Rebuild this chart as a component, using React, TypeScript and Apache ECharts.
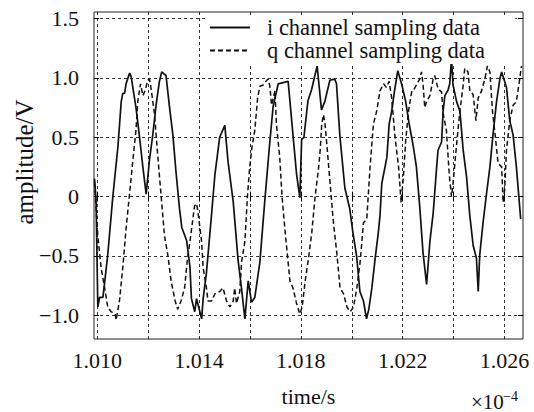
import React, { useEffect, useRef } from "react";
import * as echarts from "echarts";

const FONT = "Liberation Serif";

const seriesNames = ["i channel sampling data", "q channel sampling data"];

const xTickValues = [1.01, 1.012, 1.014, 1.016, 1.018, 1.02, 1.022, 1.024, 1.026];
const xLabelValues = [1.01, 1.014, 1.018, 1.022, 1.026];
const yTickValues = [-1.0, -0.5, 0, 0.5, 1.0, 1.5];

const iTime = [
  1.00989, 1.00995, 1.01002, 1.01009, 1.01022, 1.01028, 1.01041, 1.01061, 1.01081, 1.01094,
  1.011, 1.01107, 1.01113, 1.01127, 1.01133, 1.01152, 1.01166, 1.01179, 1.01192, 1.01205,
  1.01218, 1.01231, 1.01244, 1.01253, 1.0127, 1.01284, 1.01297, 1.0131, 1.01323, 1.01332,
  1.01351, 1.01364, 1.0137, 1.01383, 1.0139, 1.01403, 1.0141, 1.01416, 1.01429, 1.01449,
  1.01462, 1.01481, 1.01501, 1.01514, 1.01534, 1.01553, 1.01567, 1.0158, 1.01593, 1.01606,
  1.01619, 1.01639, 1.01658, 1.01678, 1.01691, 1.01711, 1.0173, 1.0175, 1.01769, 1.01783,
  1.01796, 1.01803, 1.01812, 1.01828, 1.01842, 1.01864, 1.01881, 1.01894, 1.01914, 1.01933,
  1.0194, 1.01953, 1.01973, 1.01992, 1.02005, 1.02019, 1.02032, 1.02046, 1.02058, 1.02067,
  1.02079, 1.02092, 1.02104, 1.02111, 1.02118, 1.02138, 1.02147, 1.02157, 1.02168, 1.02181,
  1.02189, 1.02197, 1.02212, 1.02225, 1.02242, 1.02254, 1.02267, 1.0228, 1.02294, 1.02301,
  1.02307, 1.0232, 1.02333, 1.02339, 1.02353, 1.02359, 1.02366, 1.02379, 1.02385, 1.02392,
  1.02398, 1.02412, 1.02425, 1.02438, 1.02451, 1.02464, 1.02477, 1.0249, 1.02497, 1.02503,
  1.02516, 1.0253, 1.02543, 1.02555, 1.02569, 1.02582, 1.02589, 1.02601, 1.02608, 1.02621,
  1.02634, 1.02647, 1.02664,
];
const iValue = [
  0.15, -0.02, -0.93, -0.85, -0.85, -0.74, -0.49, 0.0, 0.42, 0.8,
  0.87, 0.87, 0.95, 1.04, 1.01, 0.75, 0.5, 0.25, 0.02, 0.31,
  0.52, 0.77, 0.97, 1.05, 1.02, 0.75, 0.52, 0.19, -0.1, -0.26,
  -0.37, -0.59, -0.86, -0.97, -0.86, -0.97, -1.03, -0.86, -0.64, -0.15,
  0.18, 0.5, 0.6, 0.29, -0.04, -0.53, -0.78, -1.03, -0.71, -0.89,
  -0.85, -0.55, -0.04, 0.46, 0.76, 0.95, 0.96, 0.97, 0.52, 0.19,
  -0.01, 0.48, 0.5, 0.81, 0.9, 1.1, 0.73, 0.8, 0.98, 0.99,
  0.95, 0.52, 0.07, -0.1, -0.31, -0.5, -0.8, -0.88, -1.03, -0.95,
  -0.77, -0.52, -0.31, -0.16, 0.11, 0.33, 0.61, 0.72, 0.89, 1.06,
  1.0, 0.94, 0.8, 0.62, 0.42, 0.25, -0.08, -0.47, -0.74, -0.55,
  -0.38, -0.14, 0.23, 0.39, 0.46, 0.72, 0.85, 0.9, 0.95, 1.16,
  0.94, 0.8, 0.72, 0.39, 0.17, -0.16, -0.41, -0.52, -0.8, -0.49,
  -0.22, 0.03, 0.25, 0.52, 0.8, 0.99, 1.05, 0.97, 0.92, 0.64,
  0.52, 0.25, -0.19,
];

const qTime = [
  1.00989, 1.01002, 1.01015, 1.01028, 1.01041, 1.01054, 1.0107, 1.01074, 1.01087, 1.011,
  1.01113, 1.01127, 1.0114, 1.01152, 1.01159, 1.0117, 1.01179, 1.01189, 1.01198, 1.01205,
  1.01212, 1.01225, 1.01238, 1.01251, 1.01264, 1.01277, 1.0129, 1.01306, 1.01316, 1.01329,
  1.01343, 1.01353, 1.01369, 1.01382, 1.0139, 1.01395, 1.0141, 1.01416, 1.01429, 1.01435,
  1.01449, 1.01462, 1.01481, 1.01494, 1.01508, 1.01521, 1.01534, 1.0154, 1.01547, 1.0156,
  1.01567, 1.0158, 1.0159, 1.01599, 1.01608, 1.01619, 1.0163, 1.01639, 1.01652, 1.01662,
  1.01671, 1.01678, 1.01685, 1.01698, 1.01704, 1.01717, 1.01726, 1.01737, 1.01757, 1.01769,
  1.01783, 1.01796, 1.01805, 1.01817, 1.0183, 1.01843, 1.01856, 1.01869, 1.01876, 1.01882,
  1.01889, 1.01895, 1.01902, 1.01915, 1.01928, 1.01941, 1.01954, 1.01968, 1.01981, 1.01994,
  1.02007, 1.0202, 1.02033, 1.02046, 1.02059, 1.02072, 1.02085, 1.02098, 1.02111, 1.02125,
  1.02136, 1.02147, 1.02157, 1.0217, 1.02184, 1.02194, 1.02203, 1.02212, 1.02223, 1.02236,
  1.02244, 1.02254, 1.02267, 1.02274, 1.0228, 1.02287, 1.02294, 1.02307, 1.0232, 1.02326,
  1.02339, 1.02353, 1.02359, 1.02372, 1.02383, 1.02392, 1.02398, 1.02412, 1.02425, 1.02438,
  1.02444, 1.02457, 1.02464, 1.02477, 1.02488, 1.02497, 1.0251, 1.02523, 1.02533, 1.02543,
  1.02553, 1.02566, 1.02575, 1.02589, 1.02595, 1.02601, 1.02608, 1.02621, 1.02634, 1.02647,
  1.0266, 1.02667,
];
const qValue = [
  0.12, -0.33, -0.6, -0.76, -0.93, -0.97, -0.99, -1.04, -0.88, -0.6,
  -0.27, 0.03, 0.31, 0.56, 0.8, 0.95, 0.85, 0.9, 0.98, 0.99,
  0.9, 0.69, 0.33, 0.0, -0.33, -0.49, -0.71, -0.88, -0.95, -0.88,
  -0.77, -0.55, -0.3, -0.08, -0.06, -0.12, -0.38, -0.6, -0.77, -0.88,
  -0.88, -0.82, -0.8, -0.77, -0.88, -0.93, -0.88, -0.77, -0.9, -0.8,
  -0.55, -0.38, 0.0, 0.25, 0.42, 0.56, 0.83, 0.93, 0.94, 0.97,
  0.99, 0.93, 0.77, 0.89, 0.61, 0.33, 0.0, -0.27, -0.71, -0.77,
  -0.9, -0.99, -0.93, -0.71, -0.52, -0.3, 0.0, 0.23, 0.39, 0.61,
  0.69, 0.61, 0.44, 0.11, -0.22, -0.47, -0.77, -0.82, -0.93, -0.97,
  -0.93, -0.77, -0.55, -0.22, -0.19, 0.25, 0.61, 0.72, 0.89, 0.95,
  0.92, 0.97, 0.83, 0.5, 0.25, -0.05, 0.17, 0.47, 0.72, 0.89,
  0.9, 0.94, 0.99, 1.05, 0.95, 0.75, 0.8, 0.85, 0.99, 1.02,
  0.91, 0.88, 0.7, 0.56, 0.19, 0.0, 0.11, 0.44, 0.72, 0.94,
  1.08, 1.05, 0.89, 0.86, 0.64, 0.83, 0.89, 0.99, 1.1, 1.05,
  0.72, 0.47, 0.28, 0.25, -0.05, 0.06, 0.39, 0.64, 0.77, 0.8,
  0.99, 1.1,
];

const X_MIN = 1.00987;
const X_MAX = 1.02673;
const Y_MIN = -1.2;
const Y_MAX = 1.555;

const fmtY = (v: number) => {
  if (Math.abs(v) < 1e-9) return "0";
  return (v < 0 ? "\u2212" : "") + Math.abs(v).toFixed(1);
};

export default function App() {
  const ref = useRef<HTMLDivElement>(null);
  useEffect(() => {
    const chart = echarts.init(ref.current!, null, { renderer: "svg" });
    const gridLine = { show: true, lineStyle: { color: "#000", width: 0.8, type: [3, 3] as any } };
    const tickStyle = { color: "#000", width: 1 };
    chart.setOption({
      animation: false,
      backgroundColor: "#fff",
      grid: {
        left: 94,
        right: 11,
        top: 12,
        bottom: 66,
        show: true,
        borderColor: "#222",
        borderWidth: 1,
        backgroundColor: "transparent",
      },
      legend: {
        orient: "vertical",
        left: 207,
        top: 16,
        padding: [0, 30, 2, 2],
        itemWidth: 40,
        itemHeight: 12,
        itemGap: 0,
        backgroundColor: "#fff",
        data: seriesNames,
        itemStyle: { opacity: 0 },
        formatter: (name: string) => "{g|}" + name,
        textStyle: {
          fontFamily: FONT,
          fontSize: 22.5,
          color: "#111",
          lineHeight: 19,
          rich: { g: { width: 12, height: 10 } },
        },
      },
      xAxis: [
        {
          type: "value",
          min: X_MIN,
          max: X_MAX,
          position: "bottom",
          axisLine: { show: false },
          axisTick: { show: true, inside: true, length: 5, customValues: xTickValues, lineStyle: tickStyle },
          axisLabel: {
            customValues: xLabelValues,
            formatter: (v: number) => v.toFixed(3),
            fontFamily: FONT,
            fontSize: 22,
            color: "#111",
            margin: 10,
          },
          splitLine: gridLine,
          name: "time/s",
          nameLocation: "middle",
          nameGap: 46,
          nameTextStyle: { fontFamily: FONT, fontSize: 22, color: "#111" },
        },
        {
          type: "value",
          min: X_MIN,
          max: X_MAX,
          position: "top",
          axisLine: { show: false },
          axisTick: { show: true, inside: true, length: 5, customValues: xTickValues, lineStyle: tickStyle },
          axisLabel: { show: false },
          splitLine: { show: false },
        },
      ],
      yAxis: [
        {
          type: "value",
          min: Y_MIN,
          max: Y_MAX,
          position: "left",
          axisLine: { show: false },
          axisTick: { show: true, inside: true, length: 5, customValues: yTickValues, lineStyle: tickStyle },
          axisLabel: {
            customValues: yTickValues,
            formatter: fmtY,
            fontFamily: FONT,
            fontSize: 22,
            color: "#111",
            margin: 15,
          },
          splitLine: gridLine,
        },
        {
          type: "value",
          min: Y_MIN,
          max: Y_MAX,
          position: "right",
          axisLine: { show: false },
          axisTick: { show: true, inside: true, length: 5, customValues: yTickValues, lineStyle: tickStyle },
          axisLabel: { show: false },
          splitLine: { show: false },
        },
      ],
      graphic: [
        {
          type: "text",
          x: 24,
          y: 162,
          rotation: Math.PI / 2,
          style: {
            text: "amplitude/V",
            fontFamily: FONT,
            fontSize: 25,
            fill: "#111",
            align: "center",
            verticalAlign: "middle",
          },
        },
        {
          type: "text",
          x: 471,
          y: 391,
          style: { text: "\u00d710", fontFamily: FONT, fontSize: 21, fill: "#111", align: "left", verticalAlign: "top" },
        },
        {
          type: "text",
          x: 503,
          y: 389,
          style: { text: "\u22124", fontFamily: FONT, fontSize: 14, fill: "#111", align: "left", verticalAlign: "top" },
        },
      ],
      series: [
        {
          name: seriesNames[0],
          type: "line",
          xAxisIndex: 0,
          yAxisIndex: 0,
          symbol: "none",
          data: iTime.map((t, k) => [t, iValue[k]]),
          lineStyle: { color: "#111", width: 1.7 },
          itemStyle: { color: "#111" },
        },
        {
          name: seriesNames[1],
          type: "line",
          xAxisIndex: 0,
          yAxisIndex: 0,
          symbol: "none",
          data: qTime.map((t, k) => [t, qValue[k]]),
          lineStyle: { color: "#111", width: 1.5, type: [5, 3] },
          itemStyle: { color: "#111" },
        },
      ],
    });
    return () => chart.dispose();
  }, []);
  return <div ref={ref} style={{ position: "fixed", left: 0, top: 0, width: 534, height: 412 }} />;
}
